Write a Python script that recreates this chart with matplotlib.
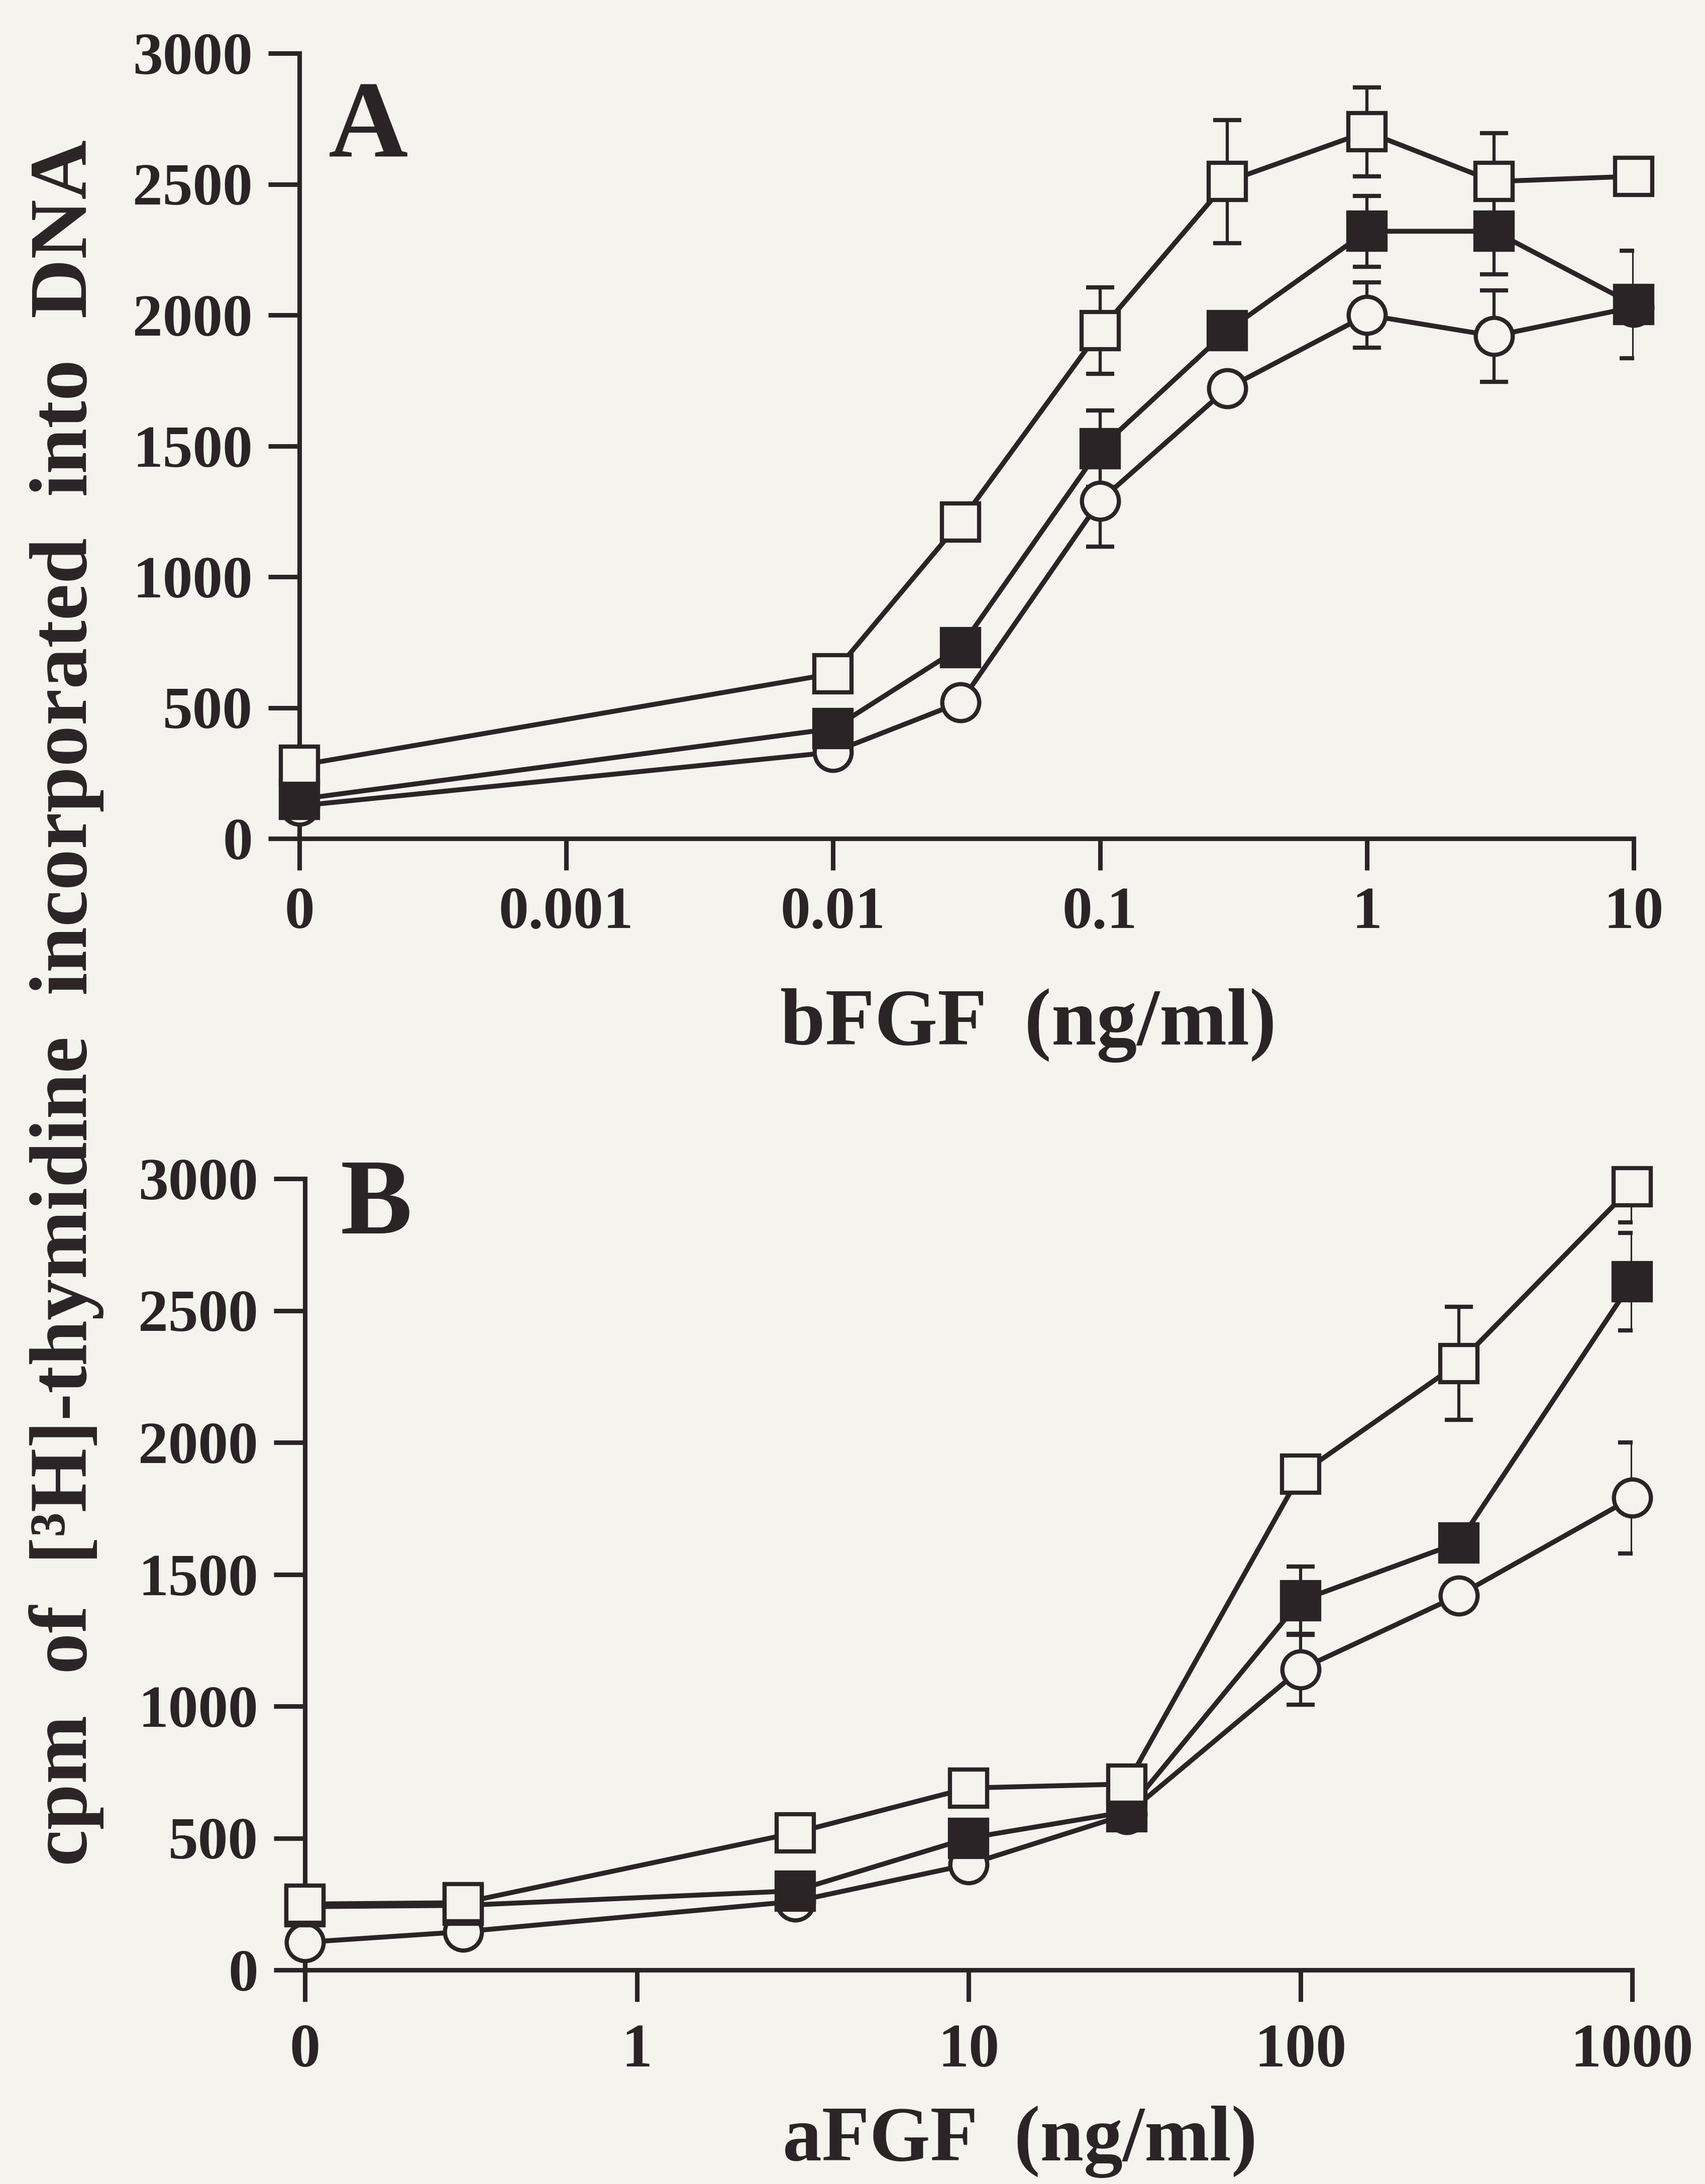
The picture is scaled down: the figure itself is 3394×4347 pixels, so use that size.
import numpy as np
import matplotlib
matplotlib.use("Agg")
import matplotlib.pyplot as plt

# ---- Panel A: bFGF dose response (ng/ml) ----
bfgf_dose = [0, 0.01, 0.03, 0.1, 0.3, 1, 3, 10]
bfgf_open_sq = [280, 630, 1210, 1940, 2510, 2700, 2510, 2530]
bfgf_open_sq_err = [0, 0, 0, 165, 235, 170, 185, 0]
bfgf_filled_sq = [150, 420, 730, 1490, 1940, 2320, 2320, 2040]
bfgf_filled_sq_err = [0, 0, 0, 146, 0, 135, 165, 205]
bfgf_open_circ = [125, 330, 520, 1290, 1720, 2000, 1920, 2030]
bfgf_open_circ_err = [0, 0, 0, 175, 0, 125, 175, 0]
bfgf_ticks = [1e-4, 1e-3, 1e-2, 1e-1, 1, 10]
bfgf_ticklabels = ["0", "0.001", "0.01", "0.1", "1", "10"]

# ---- Panel B: aFGF dose response (ng/ml) ----
afgf_dose = [0, 0.3, 3, 10, 30, 100, 300, 1000]
afgf_open_sq = [250, 255, 520, 690, 705, 1880, 2300, 2970]
afgf_open_sq_err = [0, 0, 0, 0, 0, 0, 215, 135]
afgf_filled_sq = [240, 245, 300, 500, 600, 1400, 1620, 2610]
afgf_filled_sq_err = [0, 0, 0, 0, 0, 130, 0, 185]
afgf_open_circ = [105, 145, 260, 400, 590, 1140, 1420, 1790]
afgf_open_circ_err = [0, 0, 0, 0, 0, 135, 0, 210]
afgf_ticks = [0.1, 1, 10, 100, 1000]
afgf_ticklabels = ["0", "1", "10", "100", "1000"]

y_ticks = [0, 500, 1000, 1500, 2000, 2500, 3000]
y_ticklabels = ["0", "500", "1000", "1500", "2000", "2500", "3000"]

INK = "#2b2426"
PAPER = "#f4f3ee"

plt.rcParams["font.family"] = ["Liberation Serif", "DejaVu Serif"]
plt.rcParams["font.weight"] = "bold"

W, H = 3394, 4347
fig = plt.figure(figsize=(W / 100, H / 100), dpi=100, facecolor=PAPER)


def rect_px(x0, x1, ytop, ybot):
    return [x0 / W, 1 - ybot / H, (x1 - x0) / W, (ybot - ytop) / H]


def panel(rect, dose, zero_at, series, ticks, ticklabels, xlim,
          xlabelsize, xpad):
    ax = fig.add_axes(rect)
    ax.set_facecolor("none")
    ax.set_xscale("log")
    ax.set_xlim(*xlim)
    ax.set_ylim(0, 3000)
    # the zero dose sits on the first tick of the log axis
    x = np.array([zero_at if d == 0 else d for d in dose], float)
    for k, (vals, errs, marker, face) in enumerate(series):
        vals = np.asarray(vals, float)
        errs = np.asarray(errs, float)
        m = errs > 0
        ax.errorbar(x[m], vals[m], yerr=errs[m], fmt="none", ecolor=INK,
                    elinewidth=4.5, capsize=20, capthick=6, zorder=2)
        ax.plot(x, vals, color=INK, lw=7, marker=marker, ms=53,
                mfc=face, mec=INK, mew=6, zorder=3 + k, clip_on=False)
    ax.set_xticks(ticks)
    ax.set_xticklabels(ticklabels)
    ax.xaxis.set_minor_locator(matplotlib.ticker.NullLocator())
    ax.set_yticks(y_ticks)
    ax.set_yticklabels(y_ticklabels)
    for side in ("top", "right"):
        ax.spines[side].set_visible(False)
    for side in ("left", "bottom"):
        ax.spines[side].set_linewidth(6.5)
        ax.spines[side].set_color(INK)
    ax.tick_params(axis="both", direction="out", length=45, width=6.5,
                   color=INK, labelcolor=INK)
    ax.tick_params(axis="y", labelsize=86, pad=22)
    ax.tick_params(axis="x", labelsize=xlabelsize, pad=xpad)
    return ax


panel(rect_px(596, 3252, 106, 1669), bfgf_dose, 1e-4,
      [(bfgf_open_circ, bfgf_open_circ_err, "o", PAPER),
       (bfgf_filled_sq, bfgf_filled_sq_err, "s", INK),
       (bfgf_open_sq, bfgf_open_sq_err, "s", PAPER)],
      bfgf_ticks, bfgf_ticklabels, (1e-4, 10), 86, 24)

panel(rect_px(607, 3249, 2346, 3921), afgf_dose, 0.1,
      [(afgf_open_circ, afgf_open_circ_err, "o", PAPER),
       (afgf_filled_sq, afgf_filled_sq_err, "s", INK),
       (afgf_open_sq, afgf_open_sq_err, "s", PAPER)],
      afgf_ticks, afgf_ticklabels, (0.1, 1000), 88, 32)

# panel letters
fig.text(654 / W, 1 - 313 / H, "A", fontsize=158, color=INK,
         ha="left", va="baseline")
fig.text(677 / W, 1 - 2455 / H, "B", fontsize=154, color=INK,
         ha="left", va="baseline")

# axis titles
fig.text(2047 / W, 1 - 2079 / H, "bFGF  (ng/ml)", fontsize=116, color=INK,
         ha="center", va="baseline")
fig.text(2030 / W, 1 - 4300 / H, "aFGF  (ng/ml)", fontsize=112, color=INK,
         ha="center", va="baseline")
fig.text(172 / W, 1 - 1996 / H,
         "cpm  of  [\u00b3H]-thymidine  incorporated  into  DNA",
         fontsize=118, color=INK, rotation=90, rotation_mode="anchor",
         ha="center", va="baseline")

fig.savefig("out.png", dpi=100, facecolor=PAPER)
